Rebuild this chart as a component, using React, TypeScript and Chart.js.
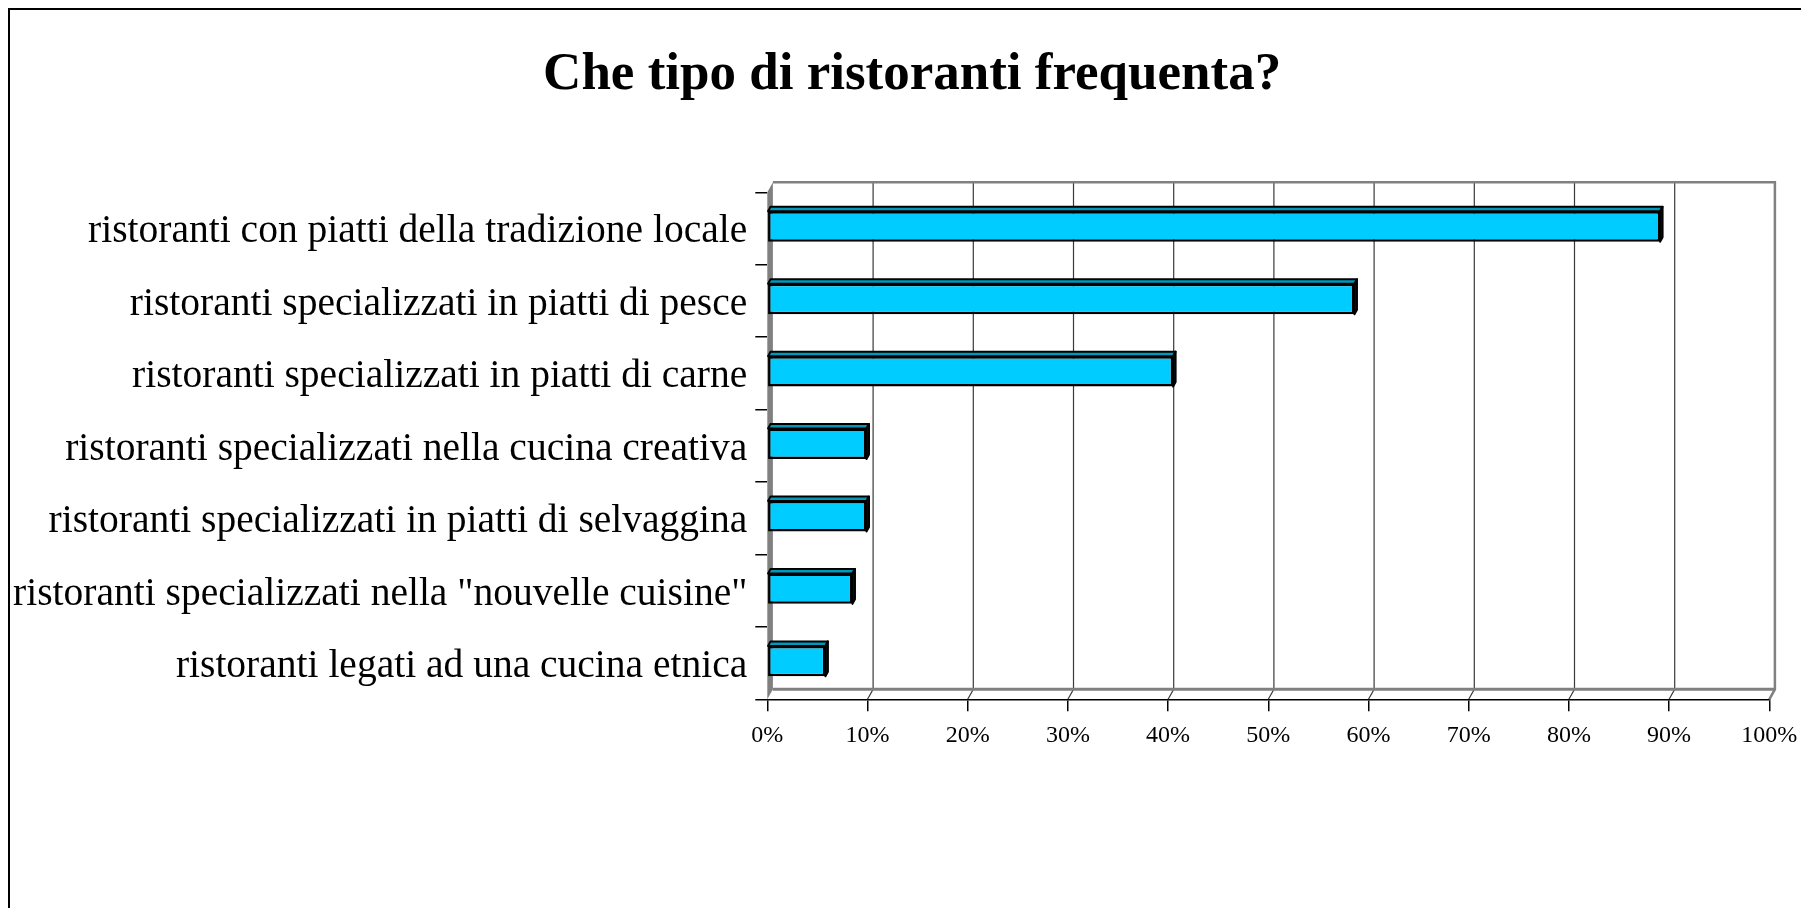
import React, { useEffect, useRef } from 'react';
import { Chart, registerables } from 'chart.js';

Chart.register(...registerables);

const titleText = 'Che tipo di ristoranti frequenta?';
const categories = [
  'ristoranti con piatti della tradizione locale',
  'ristoranti specializzati in piatti di pesce',
  'ristoranti specializzati in piatti di carne',
  'ristoranti specializzati nella cucina creativa',
  'ristoranti specializzati in piatti di selvaggina',
  'ristoranti specializzati nella "nouvelle cuisine"',
  'ristoranti legati ad una cucina etnica',
];
const values = [89.1, 58.6, 40.5, 9.9, 9.9, 8.5, 5.8];
const xMin = 0;
const xMax = 100;
const xStep = 10;

const DX = 5.6;
const DY = 10;
const BDX = 2.5;
const BDY = 4.5;
const BAR_DEPTH_SHIFT = 2;
const LABEL_SHIFT = 3.5;
const FONT = "'Liberation Serif', 'Times New Roman', serif";

const threeD = {
  id: 'threeD',
  afterLayout(chart: any) {
    const ys = chart.scales.y;
    if (ys) ys.left = 0;
  },
  afterDatasetsUpdate(chart: any) {
    const meta = chart.getDatasetMeta(0);
    meta.data.forEach((el: any) => {
      el.y -= BAR_DEPTH_SHIFT;
    });
  },
  beforeDraw(chart: any) {
    const ys = chart.scales.y;
    if (ys && ys.getLabelItems) {
      const items = ys.getLabelItems(chart.chartArea);
      if (!(items as any).__shifted) {
        items.forEach((it: any) => {
          it.options.translation[1] += LABEL_SHIFT;
        });
        (items as any).__shifted = true;
      }
    }
  },
  beforeDatasetsDraw(chart: any) {
    const { ctx, chartArea } = chart;
    const { left, right, top, bottom } = chartArea;
    const xs = chart.scales.x;
    ctx.save();
    // vertical gridlines on back wall + floor slants
    ctx.strokeStyle = '#3a3a3a';
    ctx.lineWidth = 1.2;
    xs.ticks.forEach((t: any) => {
      if (t.value === xMin) return;
      const px = xs.getPixelForValue(t.value);
      ctx.beginPath();
      ctx.moveTo(px + DX, top - DY);
      ctx.lineTo(px + DX, bottom - DY);
      ctx.lineTo(px, bottom);
      ctx.stroke();
    });
    // back wall outline
    ctx.strokeStyle = '#808080';
    ctx.lineWidth = 2.5;
    ctx.beginPath();
    ctx.moveTo(left + DX, top - DY);
    ctx.lineTo(right + DX, top - DY);
    ctx.lineTo(right + DX, bottom - DY);
    ctx.lineTo(right, bottom);
    ctx.stroke();
    // floor back line
    ctx.lineWidth = 3;
    ctx.beginPath();
    ctx.moveTo(left + DX, bottom - DY);
    ctx.lineTo(right + DX, bottom - DY);
    ctx.stroke();
    // left side wall
    ctx.fillStyle = '#808080';
    ctx.beginPath();
    ctx.moveTo(left, top);
    ctx.lineTo(left + DX, top - DY);
    ctx.lineTo(left + DX, bottom - DY);
    ctx.lineTo(left, bottom);
    ctx.closePath();
    ctx.fill();
    ctx.restore();
  },
  afterDatasetsDraw(chart: any) {
    const { ctx } = chart;
    const meta = chart.getDatasetMeta(0);
    ctx.save();
    ctx.strokeStyle = '#000000';
    ctx.lineWidth = 2;
    ctx.lineJoin = 'round';
    meta.data.forEach((el: any) => {
      const { x, y, base, height } = el.getProps(['x', 'y', 'base', 'height'], true);
      const t = y - height / 2;
      const b = y + height / 2;
      ctx.fillStyle = '#0099BB';
      ctx.beginPath();
      ctx.moveTo(base, t);
      ctx.lineTo(base + BDX, t - BDY);
      ctx.lineTo(x + BDX, t - BDY);
      ctx.lineTo(x, t);
      ctx.closePath();
      ctx.fill();
      ctx.stroke();
      ctx.fillStyle = '#001a22';
      ctx.beginPath();
      ctx.moveTo(x, t);
      ctx.lineTo(x + BDX, t - BDY);
      ctx.lineTo(x + BDX, b - BDY);
      ctx.lineTo(x, b);
      ctx.closePath();
      ctx.fill();
      ctx.stroke();
    });
    ctx.restore();
  },
};

export default function App() {
  const ref = useRef<HTMLCanvasElement>(null);
  useEffect(() => {
    document.body.style.overflow = 'hidden';
    const canvas = ref.current;
    if (!canvas) return;
    const chart = new Chart(canvas, {
      type: 'bar',
      data: {
        labels: categories,
        datasets: [
          {
            data: values,
            backgroundColor: '#00CCFF',
            borderColor: '#000000',
            borderWidth: 2.5,
            borderSkipped: false,
            categoryPercentage: 1,
            barPercentage: 0.42,
          },
        ],
      },
      options: {
        indexAxis: 'y',
        responsive: false,
        animation: false,
        devicePixelRatio: 1,
        layout: { padding: { left: 45, right: 39.7, top: 0, bottom: 0 } },
        plugins: {
          legend: { display: false },
          tooltip: { enabled: false },
          title: {
            display: true,
            text: titleText,
            color: '#000000',
            font: { family: FONT, size: 53, weight: 'bold' },
            padding: { top: 34, bottom: 84.7 },
          },
        },
        scales: {
          x: {
            type: 'linear',
            min: xMin,
            max: xMax,
            afterFit: (s: any) => {
              s.height = 898 - 689.3;
            },
            ticks: {
              stepSize: xStep,
              callback: (v: any) => v + '%',
              color: '#000000',
              font: { family: FONT, size: 24 },
              padding: 10,
              maxRotation: 0,
            },
            grid: {
              drawOnChartArea: false,
              drawTicks: true,
              tickLength: 12,
              color: '#000000',
              lineWidth: 1.5,
            },
            border: { display: true, color: '#000000', width: 1.5 },
          },
          y: {
            afterFit: (s: any) => {
              s.width = 712.3;
            },
            ticks: {
              color: '#000000',
              font: { family: FONT, size: 39.5 },
              padding: 8,
            },
            grid: {
              drawOnChartArea: false,
              drawTicks: true,
              tickLength: 12,
              color: '#000000',
              lineWidth: 1.5,
            },
            border: { display: false },
          },
        },
      },
      plugins: [threeD],
    });
    return () => chart.destroy();
  }, []);
  return (
    <div
      style={{
        width: 1799,
        height: 898,
        borderTop: '2px solid #000',
        borderLeft: '2px solid #000',
        overflow: 'hidden',
      }}
    >
      <canvas ref={ref} width={1799} height={898} style={{ display: 'block', width: 1799, height: 898 }} />
    </div>
  );
}
